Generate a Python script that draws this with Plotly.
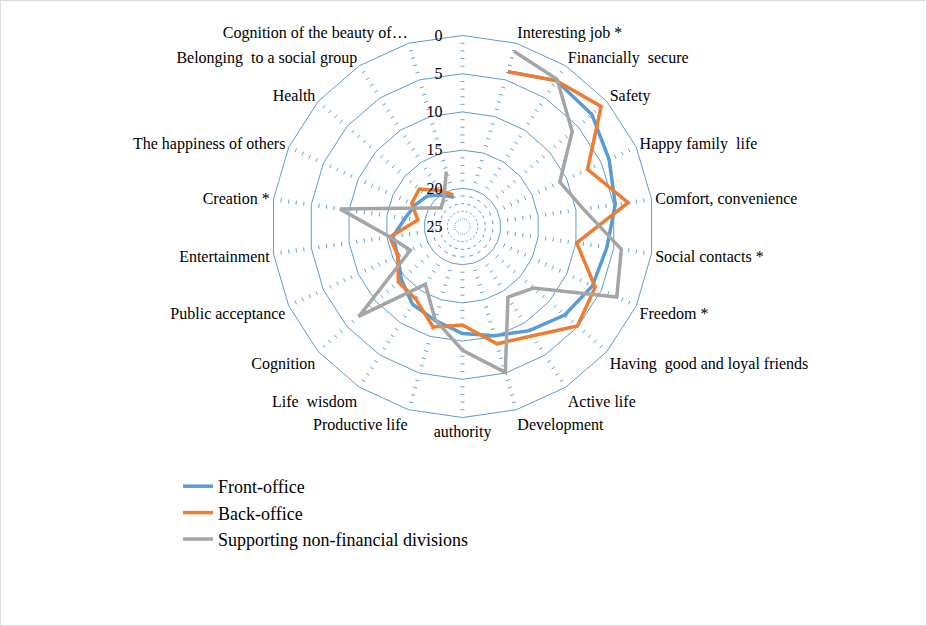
import math
import plotly.graph_objects as go

# ---------------- data ----------------
categories = [" ", "Interesting job *", "Financially  secure", "Safety", "Happy family  life",
              "Comfort, convenience", "Social contacts *", "Freedom *",
              "Having  good and loyal friends", "Active life", "Development", "authority",
              "Productive life", "Life  wisdom", "Cognition", "Public acceptance",
              "Entertainment", "Creation *", "The happiness of others", "Health",
              "Belonging  to a social group", "Cognition of the beauty of…"]

front_office = [None, 3.9, 2.3, 2.6, 3.9, 4.8, 5.9, 6.3, 7.3, 8.8, 10.1, 11.0,
                12.2, 12.9, 14.4, 15.7, 15.8, 17.4, 18.2, 18.9, 20.1, 21.0]
back_office = [None, 3.9, 2.3, 1.0, 7.0, 3.1, 9.9, 5.9, 5.1, 8.0, 9.0, 12.1,
               11.3, 13.7, 13.9, 15.7, 15.4, 19.1, 17.7, 17.5, 19.4, 20.7]
supporting = [None, 1.1, 2.1, 6.0, 11.0, 9.0, 4.0, 2.8, 12.7, 14.0, 5.1, 8.8,
              12.3, 16.0, 7.1, 17.5, 15.4, 8.8, 19.2, 21.3, 20.5, 17.5]

series_names = ["Front-office", "Back-office", "Supporting non-financial divisions"]
series_colors = ["#5B9BD5", "#ED7D31", "#A5A5A5"]

major_ticks = [0, 5, 10, 15, 20, 25]
minor_ticks = [v for v in range(1, 25) if v % 5 != 0]
r_max = 25

# ---------------- layout geometry ----------------
W, H = 927, 626
cx, cy, R = 462.5, 226.5, 191.0
dom_x = [(cx - R) / W, (cx + R) / W]
dom_y = [(H - cy - R) / H, (H - cy + R) / H]

BLUE = "#5B9BD5"
FONT = "Liberation Serif, Times New Roman, serif"
n_cat = len(categories)

fig = go.Figure()


def angular(show_labels):
    return dict(type="category", categoryorder="array", categoryarray=categories,
                rotation=90, direction="clockwise", showgrid=False,
                showline=show_labels, linecolor=BLUE, linewidth=1,
                showticklabels=show_labels, ticks="",
                tickfont=dict(family=FONT, size=16, color="#000000"))


layout_polars = {}
k = 0
for v in minor_ticks:
    k += 1
    name = "polar" if k == 1 else f"polar{k}"
    r_px = R * (r_max - v) / r_max
    edge = 2 * r_px * math.sin(math.pi / n_cat)
    half = min(2.0, edge / 4)
    gap = max(edge - 2 * half, 0.1)
    dash = f"{half:.3f}px,{gap:.3f}px,{half:.3f}px,0px"
    layout_polars[name] = dict(
        domain=dict(x=dom_x, y=dom_y), bgcolor="rgba(0,0,0,0)", gridshape="linear",
        radialaxis=dict(range=[r_max, 0], tickvals=[v], showticklabels=False, ticks="",
                        showline=False, gridcolor=BLUE, gridwidth=1, griddash=dash),
        angularaxis=angular(False))
    fig.add_trace(go.Scatterpolar(theta=categories, r=[None] * n_cat, mode="lines",
                                  subplot=name, showlegend=False, hoverinfo="skip"))

k += 1
main = f"polar{k}"
layout_polars[main] = dict(
    domain=dict(x=dom_x, y=dom_y), bgcolor="rgba(0,0,0,0)", gridshape="linear",
    radialaxis=dict(range=[r_max, 0], tickvals=major_ticks,
                    ticktext=[str(t) for t in major_ticks], angle=90, tickangle=90,
                    side="counterclockwise", showline=False,
                    ticks="outside", ticklen=14, tickcolor="rgba(0,0,0,0)",
                    gridcolor=BLUE, gridwidth=1,
                    tickfont=dict(family=FONT, size=16, color="#000000")),
    angularaxis=angular(True))

for name, vals, col in zip(series_names, [front_office, back_office, supporting], series_colors):
    fig.add_trace(go.Scatterpolar(theta=categories, r=vals, mode="lines", name=name,
                                  subplot=main, connectgaps=False,
                                  line=dict(color=col, width=3.5)))

fig.update_layout(
    width=W, height=H, margin=dict(l=0, r=0, t=0, b=0),
    paper_bgcolor="#FFFFFF", plot_bgcolor="#FFFFFF",
    font=dict(family=FONT, size=16, color="#000000"),
    showlegend=True,
    legend=dict(x=178 / W, y=1 - 468 / H, xanchor="left", yanchor="top",
                bgcolor="rgba(0,0,0,0)", font=dict(family=FONT, size=18, color="#000000")),
    shapes=[dict(type="rect", xref="paper", yref="paper", x0=0.0005, x1=0.9995,
                 y0=0.0008, y1=0.9992, line=dict(color="#D9D9D9", width=1))],
    **layout_polars)

fig.write_html("out.html", config={"displayModeBar": False},
               post_script="document.body.style.margin='0px';"
                           "document.body.style.overflow='hidden';")
